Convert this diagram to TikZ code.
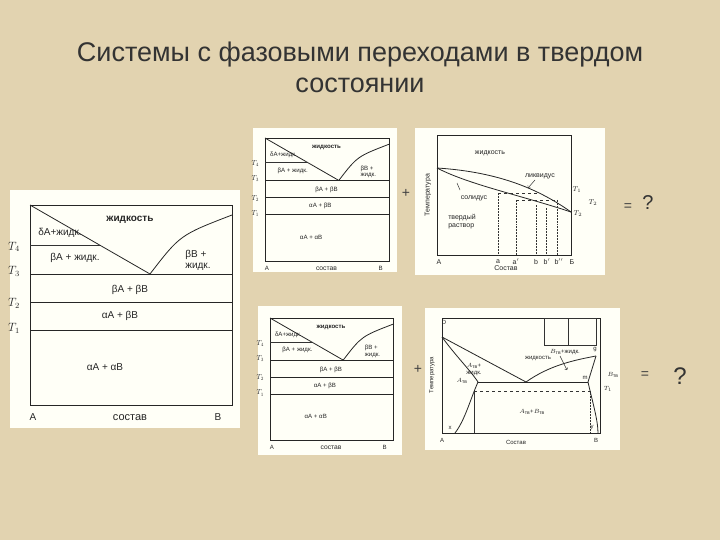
\documentclass[tikz,border=0pt]{standalone}
\usepackage{fontspec}
\setmainfont{Liberation Sans}
\begin{document}
\begin{tikzpicture}[x=1pt,y=-1pt,
  ln/.style={line width=0.8pt,black!85},
  thin/.style={line width=0.5pt,black!80},
  lab/.style={font=\fontsize{10}{11}\selectfont,inner sep=0pt,text=black!85},
  panel/.style={fill=white!97!yellow,draw=none}]
\fill[fill={rgb,255:red,226;green,211;blue,176}] (0,0) rectangle (720,540);
\useasboundingbox (0,0) rectangle (720,540);
\node[font=\fontsize{27}{31}\selectfont,text=black!80,align=center] (title) at (360,67) {Системы с фазовыми переходами в твердом\\состоянии};
% panels
\fill[panel] (10,190) rectangle (240,428);
\fill[panel] (253,128) rectangle (397,272);
\fill[panel] (258,306) rectangle (402,455);
\fill[panel] (415,128) rectangle (605,275);
\fill[panel] (425,308) rectangle (620,450);
\newcommand{\pd}{%
  \draw[ln] (0,0) rectangle (202,200);
  \draw[ln] (0,0) -- (120,69);
  \draw[ln] (120,69) .. controls (150,30) .. (202,10);
  \draw[ln] (0,69) -- (202,69);
  \draw[ln] (0,97) -- (202,97);
  \draw[ln] (0,125) -- (202,125);
  \draw[thin] (0,40) -- (70,40);
  \node[lab,font=\bfseries\fontsize{10}{11}\selectfont] (liq) at (100,15) {жидкость};
  \node[lab] (d1) at (30,28) {δA+жидк.};
  \node[lab] (d2) at (45,53) {βA + жидк.};
  \node[lab,align=left] (d3) at (168,55) {βB +\\жидк.};
  \node[lab] (d4) at (100,85) {βA + βB};
  \node[lab] (d5) at (90,111) {αA + βB};
  \node[lab] (d6) at (75,162) {αA + αB};
  \node[lab] (dA) at (3,212) {A};
  \node[lab,font=\fontsize{11}{12}\selectfont] (dS) at (100,213) {состав};
  \node[lab] (dB) at (188,212) {B};
  \node[lab,font=\fontsize{12}{12}\selectfont] (t4) at (-16,42) {$T_4$};
  \node[lab,font=\fontsize{12}{12}\selectfont] (t3) at (-16,66) {$T_3$};
  \node[lab,font=\fontsize{12}{12}\selectfont] (t2) at (-16,98) {$T_2$};
  \node[lab,font=\fontsize{12}{12}\selectfont] (t1) at (-16,123) {$T_1$};
}
\begin{scope}[shift={(30,205)}]\pd\end{scope}
\begin{scope}[shift={(265,138)},scale=0.615,transform shape]\pd\end{scope}
\begin{scope}[shift={(270,318)},scale=0.61,transform shape]\pd\end{scope}
% top right diagram
\begin{scope}[lab/.style={font=\fontsize{7}{8}\selectfont,inner sep=0pt,text=black!85}]
\draw[ln] (437,135) rectangle (571,255);
\coordinate (L) at (437,168); \coordinate (R) at (571,212);
\draw[ln] (L) .. controls (500,172) and (540,190) .. (R);
\draw[ln] (L) .. controls (470,185) and (520,195) .. (R);
\draw[thin,dashed] (498,193) -- (538,193);
\draw[thin,dashed] (516,200) -- (557,200);
\draw[thin,densely dotted] (498,193) -- (498,255);
\draw[thin,densely dotted] (516,200) -- (516,255);
\draw[thin,densely dotted] (536,205) -- (536,255);
\draw[thin,densely dotted] (546,208) -- (546,255);
\draw[thin,densely dotted] (557,200) -- (557,255);
\node[lab] (zh) at (490,153) {жидкость};
\node[lab] (lk) at (540,176) {ликвидус};
\draw[thin,->] (535,180) -- (528,188);
\node[lab] (sl) at (474,198) {солидус};
\draw[thin] (460,190) -- (457,183);
\node[lab,align=left] (tv) at (462,222) {твердый\\раствор};
\node[lab,rotate=90] (tm) at (428,195) {Температура};
\node[lab] (a1) at (439,262) {A}; \node[lab] (a2) at (498,262) {a};
\node[lab] (a3) at (516,262) {a$'$}; \node[lab] (a4) at (536,262) {b};
\node[lab] (a5) at (547,262) {b$'$}; \node[lab] (a6) at (559,262) {b$''$};
\node[lab] (a7) at (572,262) {Б}; \node[lab] (a8) at (506,268) {Состав};
\node[lab] (tt1) at (577,190) {$T_1$}; \node[lab] (tt2) at (578,214) {$T_2$};
\node[lab] (tt3) at (593,203) {$T_2$};
\end{scope}
% bottom right diagram
\begin{scope}[lab/.style={font=\fontsize{6}{7}\selectfont,inner sep=0pt,text=black!85}]
\draw[ln] (442,318) rectangle (600,433);
\draw[thin] (544,318) rectangle (568,345); \draw[thin] (568,318) rectangle (596,345);
\coordinate (D) at (442,337); \coordinate (E) at (526,382); \coordinate (G) at (596,356);
\draw[ln] (D) -- (E);
\draw[ln] (E) .. controls (550,365) and (575,360) .. (G);
\draw[ln] (D) .. controls (455,355) and (470,370) .. (478,382);
\draw[ln] (G) -- (588,382);
\draw[ln] (478,382) -- (588,382);
\draw[thin,dashed] (474,391) -- (590,391);
\draw[ln] (478,382) .. controls (470,400) and (465,420) .. (455,433);
\draw[ln] (588,382) .. controls (592,400) and (598,420) .. (598,433);
\draw[thin] (474,391) -- (474,433);
\draw[thin,densely dotted] (590,391) -- (590,433);
\node[lab] (p1) at (444,322) {D}; \node[lab] (p2) at (595,350) {g};
\node[lab] (p3) at (538,358) {жидкость};
\node[lab] (p4) at (565,352) {$B_{\rm тв}$+жидк.};
\draw[thin,->] (560,356) -- (567,370);
\node[lab,align=center] (p5) at (474,370) {$A_{\rm тв}$+\\жидк.};
\node[lab] (p6) at (462,381) {$A_{\rm тв}$};
\node[lab] (p7) at (613,375) {$B_{\rm тв}$};
\node[lab] (p8) at (608,389) {$T_1$};
\node[lab] (p9) at (532,412) {$A_{\rm тв}$+$B_{\rm тв}$};
\node[lab] (p10) at (585,378) {m};
\node[lab] (p11) at (450,428) {x}; \node[lab] (p12) at (592,428) {y};
\node[lab] (p13) at (442,440) {A}; \node[lab] (p14) at (596,440) {B};
\node[lab] (p15) at (516,442) {Состав};
\node[lab,rotate=90] (p16) at (432,375) {Температура};
\end{scope}
% operators
\node[font=\fontsize{14}{14}\selectfont,text=black!75] (plus1) at (406,193) {+};
\node[font=\fontsize{14}{14}\selectfont,text=black!75] (plus2) at (418,369) {+};
\node[font=\fontsize{14}{14}\selectfont,text=black!75] (eq1) at (628,207) {=};
\node[font=\fontsize{20}{20}\selectfont,text=black!80] (q1) at (648,203) {?};
\node[font=\fontsize{14}{14}\selectfont,text=black!75] (eq2) at (645,375) {=};
\node[font=\fontsize{24}{24}\selectfont,text=black!80] (q2) at (680,376) {?};
\end{tikzpicture}
\end{document}
